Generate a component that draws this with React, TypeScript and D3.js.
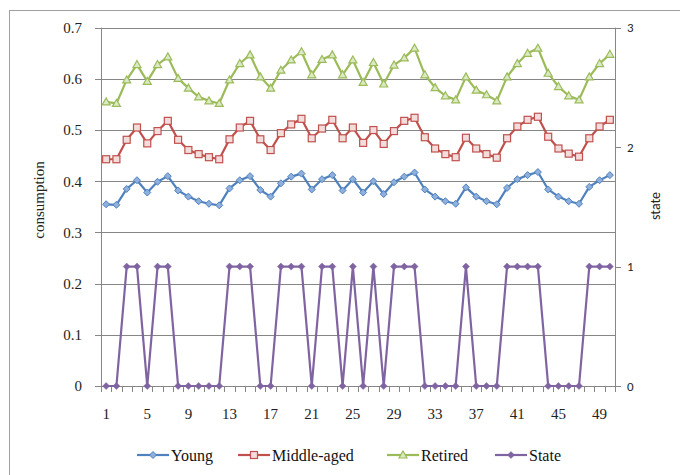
import React, { useEffect, useRef } from "react";
import * as d3 from "d3";

const periods = d3.range(1, 51);
const young = [0.355,0.354,0.385,0.402,0.378,0.399,0.410,0.382,0.370,0.361,0.356,0.353,0.386,0.402,0.410,0.383,0.370,0.396,0.409,0.415,0.384,0.404,0.412,0.382,0.404,0.378,0.400,0.375,0.398,0.409,0.417,0.384,0.370,0.361,0.356,0.388,0.370,0.361,0.355,0.387,0.404,0.412,0.418,0.384,0.370,0.361,0.356,0.389,0.402,0.412];
const middle = [0.443,0.443,0.481,0.505,0.474,0.498,0.518,0.481,0.461,0.453,0.447,0.443,0.482,0.505,0.518,0.482,0.461,0.494,0.511,0.522,0.484,0.503,0.520,0.484,0.505,0.475,0.500,0.473,0.498,0.518,0.524,0.486,0.464,0.453,0.447,0.485,0.464,0.453,0.446,0.484,0.507,0.520,0.526,0.487,0.464,0.454,0.448,0.484,0.507,0.520];
const retired = [0.555,0.552,0.598,0.628,0.595,0.628,0.643,0.601,0.582,0.565,0.557,0.552,0.598,0.630,0.647,0.604,0.582,0.617,0.637,0.653,0.608,0.638,0.647,0.608,0.637,0.593,0.632,0.590,0.627,0.641,0.660,0.608,0.583,0.567,0.559,0.604,0.578,0.569,0.557,0.604,0.630,0.650,0.660,0.611,0.585,0.567,0.559,0.604,0.630,0.648];
const stateVals = [0,0,1,1,0,1,1,0,0,0,0,0,1,1,1,0,0,1,1,1,0,1,1,0,1,0,1,0,1,1,1,0,0,0,0,1,0,0,0,1,1,1,1,0,0,0,0,1,1,1];
const leftTicks = [0,0.1,0.2,0.3,0.4,0.5,0.6,0.7];
const rightTicks = [0,1,2,3];
const xLabels = [1,5,9,13,17,21,25,29,33,37,41,45,49];
const seriesNames = ["Young","Middle-aged","Retired","State"];

const COLORS = ["#4F81BD", "#C0504D", "#9BBB59", "#8064A2"];

export default function App() {
  const ref = useRef<SVGSVGElement>(null);
  useEffect(() => {
    document.body.style.margin = "0";
    const svg = d3.select(ref.current);
    svg.selectAll("*").remove();
    const L = 101, R = 615, T = 27.7, B = 386;
    const x = d3.scalePoint<number>().domain(periods).range([L, R]).padding(0.5);
    const y = d3.scaleLinear().domain([0, 0.7]).range([B, T]);
    const y2 = d3.scaleLinear().domain([0, 3]).range([B, T]);
    const step = x.step();
    const grey = "#868686";

    // frame
    svg.append("rect").attr("x", 9.5).attr("y", 10.5).attr("width", 700).attr("height", 500)
      .attr("fill", "none").attr("stroke", "#a0a0a0").attr("stroke-width", 1);

    // gridlines
    svg.append("g").selectAll("line").data(leftTicks).join("line")
      .attr("x1", L).attr("x2", R).attr("y1", d => Math.round(y(d)) + 0.5).attr("y2", d => Math.round(y(d)) + 0.5)
      .attr("stroke", grey).attr("stroke-width", 1);
    // left axis
    svg.append("line").attr("x1", L + 0.5).attr("x2", L + 0.5).attr("y1", T).attr("y2", B + 6).attr("stroke", grey);
    svg.append("g").selectAll("line").data(leftTicks).join("line")
      .attr("x1", L - 6).attr("x2", L).attr("y1", d => Math.round(y(d)) + 0.5).attr("y2", d => Math.round(y(d)) + 0.5)
      .attr("stroke", grey);
    svg.append("g").selectAll("text").data(leftTicks).join("text")
      .attr("x", 82).attr("y", d => y(d)).attr("dy", "0.35em").attr("text-anchor", "end")
      .attr("font-family", "Liberation Serif, Times New Roman, serif").attr("font-size", 15).attr("fill", "#222")
      .text(d => d === 0 ? "0" : d3.format(".1f")(d));
    // right axis
    svg.append("line").attr("x1", R + 0.5).attr("x2", R + 0.5).attr("y1", T).attr("y2", B + 6).attr("stroke", grey);
    svg.append("g").selectAll("line").data(rightTicks).join("line")
      .attr("x1", R).attr("x2", R + 6).attr("y1", d => Math.round(y2(d)) + 0.5).attr("y2", d => Math.round(y2(d)) + 0.5)
      .attr("stroke", grey);
    svg.append("g").selectAll("text").data(rightTicks).join("text")
      .attr("x", 627).attr("y", d => y2(d)).attr("dy", "0.35em").attr("text-anchor", "start")
      .attr("font-family", "Carlito, Liberation Sans, Arial, sans-serif").attr("font-size", 13).attr("fill", "#222")
      .text(d => String(d));
    // x axis ticks at category boundaries
    const bounds = d3.range(0, periods.length + 1).map(i => L + i * step);
    svg.append("g").selectAll("line").data(bounds).join("line")
      .attr("x1", d => Math.round(d) + 0.5).attr("x2", d => Math.round(d) + 0.5).attr("y1", B).attr("y2", B + 6)
      .attr("stroke", grey);
    svg.append("g").selectAll("text").data(xLabels).join("text")
      .attr("x", d => x(d)!).attr("y", 419).attr("text-anchor", "middle")
      .attr("font-family", "Liberation Serif, Times New Roman, serif").attr("font-size", 15).attr("fill", "#222")
      .text(d => String(d));

    // axis titles
    svg.append("text").attr("transform", "translate(44,200) rotate(-90)").attr("text-anchor", "middle")
      .attr("font-family", "Liberation Serif, Times New Roman, serif").attr("font-size", 15).attr("fill", "#222")
      .text("consumption");
    svg.append("text").attr("transform", "translate(660,206) rotate(-90)").attr("text-anchor", "middle")
      .attr("font-family", "Carlito, Liberation Sans, Arial, sans-serif").attr("font-size", 14).attr("fill", "#222")
      .text("state");

    const line = d3.line<[number, number]>().x(d => d[0]).y(d => d[1]);
    const drawMarker = (g: any, kind: number, cx: number, cy: number, color: string) => {
      if (kind === 0) {
        g.append("path").attr("d", `M${cx},${cy - 3.5}L${cx + 3.5},${cy}L${cx},${cy + 3.5}L${cx - 3.5},${cy}Z`)
          .attr("fill", "#8fb0dd").attr("stroke", color).attr("stroke-width", 1);
      } else if (kind === 1) {
        g.append("rect").attr("x", cx - 3.5).attr("y", cy - 3.5).attr("width", 7).attr("height", 7)
          .attr("fill", "#f3dcdc").attr("stroke", color).attr("stroke-width", 1.2);
      } else if (kind === 2) {
        g.append("path").attr("d", `M${cx},${cy - 4}L${cx + 4},${cy + 3}L${cx - 4},${cy + 3}Z`)
          .attr("fill", "#dbe9c4").attr("stroke", color).attr("stroke-width", 1.2);
      } else {
        g.append("path").attr("d", `M${cx},${cy - 3.5}L${cx + 3.5},${cy}L${cx},${cy + 3.5}L${cx - 3.5},${cy}Z`)
          .attr("fill", color).attr("stroke", color).attr("stroke-width", 0.5);
      }
    };

    const allSeries: { vals: number[]; scale: any }[] = [
      { vals: young, scale: y },
      { vals: middle, scale: y },
      { vals: retired, scale: y },
      { vals: stateVals, scale: y2 },
    ];
    allSeries.forEach((s, i) => {
      const pts: [number, number][] = s.vals.map((v, j) => [x(periods[j])!, s.scale(v)]);
      const g = svg.append("g");
      g.append("path").attr("d", line(pts)!).attr("fill", "none").attr("stroke", COLORS[i])
        .attr("stroke-width", 2.2).attr("stroke-linejoin", "round");
      pts.forEach(p => drawMarker(g, i, p[0], p[1], COLORS[i]));
    });

    // legend
    const legendX = [137, 238, 387, 495];
    const lg = svg.append("g");
    seriesNames.forEach((name, i) => {
      const lx = legendX[i];
      const ly = 455;
      lg.append("line").attr("x1", lx).attr("x2", lx + 32).attr("y1", ly).attr("y2", ly)
        .attr("stroke", COLORS[i]).attr("stroke-width", 2.2);
      drawMarker(lg, i, lx + 16, ly, COLORS[i]);
      lg.append("text").attr("x", lx + 34).attr("y", ly).attr("dy", "0.35em")
        .attr("font-family", "Liberation Serif, Times New Roman, serif").attr("font-size", 16).attr("fill", "#111")
        .text(name);
    });
  }, []);
  return <svg ref={ref} width={680} height={475} style={{ display: "block", background: "#fff" }} />;
}
